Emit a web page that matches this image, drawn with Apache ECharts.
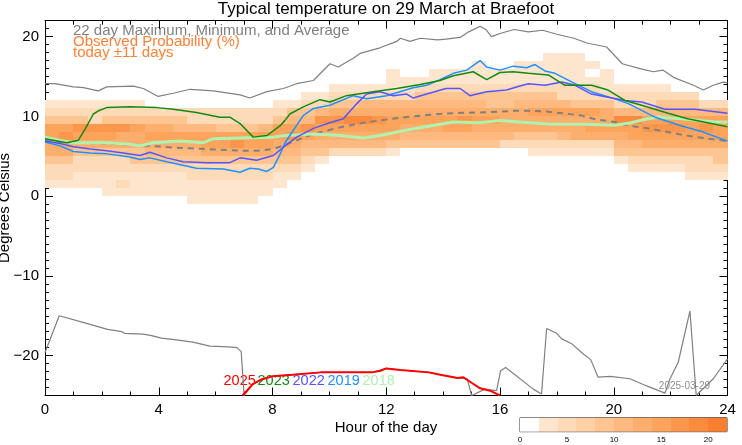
<!DOCTYPE html>
<html><head><meta charset="utf-8">
<script src="https://cdn.jsdelivr.net/npm/echarts@6/dist/echarts.min.js"></script>
<style>html,body{margin:0;padding:0;background:#fff}#c{width:742px;height:445px}</style>
</head><body><div id="c"></div>
<script>
const FONT = '"Liberation Sans", Arial, Helvetica, sans-serif';

// ---- Observed probability (%) heatmap: 0.5 h columns, 1 degree rows ----
const probCellHours = 0.5;
const probBottom = [1,1,1,1,0,0,0,0,0,0,-1,-1,-1,-1,-1,0,1,2,3,4,5,5,5,5,5,6,6,6,6,6,6,6,6,6,5,5,5,5,5,5,4,3,3,3,3,2,2,2];
const probCols = [
  [3,5,5,9,13,13,15,15,9,5,3],
  [3,5,5,9,13,13,17,15,9,5,3],
  [3,3,5,5,9,13,15,17,9,5,3],
  [3,3,5,5,9,13,15,17,5,5,3],
  [3,3,3,5,5,9,13,15,17,9,5,3],
  [3,5,3,5,5,9,13,13,17,9,5,3],
  [3,3,3,5,9,9,13,13,15,9,5,3],
  [3,3,3,5,9,11,13,15,13,9,5],
  [3,3,3,5,9,11,13,15,13,9,5],
  [3,3,3,5,9,11,13,15,11,9,5],
  [3,3,3,5,5,9,11,13,15,11,5,5],
  [3,3,3,5,5,9,13,15,15,11,5,5],
  [3,3,3,5,5,9,13,15,15,9,5,5],
  [3,3,3,5,5,9,13,17,15,9,5,5],
  [3,3,3,5,5,9,13,15,15,9,5,5],
  [3,3,5,5,9,13,15,15,11,5,5],
  [3,3,5,9,11,13,15,15,9,5,3],
  [3,5,9,11,13,17,15,11,9,3],
  [3,5,9,11,15,17,11,9,5,3],
  [3,9,11,13,15,17,11,5,3],
  [5,11,13,15,17,13,9,5,3],
  [5,11,13,15,19,13,9,5,3],
  [5,11,13,15,19,13,11,5,3],
  [5,11,13,15,17,13,11,5,3],
  [3,9,13,15,15,13,11,5,3,3,3],
  [9,11,13,15,13,11,5,3,3],
  [9,11,13,15,13,11,9,5,3],
  [9,11,13,15,13,11,9,5,3,3],
  [9,11,15,15,13,11,9,5,3,3],
  [9,11,15,17,13,11,9,5,3,3],
  [9,11,13,15,13,11,9,5,3,3,3],
  [9,11,13,15,13,9,9,5,3,3],
  [5,11,13,13,13,9,9,5,3,3],
  [5,9,13,13,13,11,9,5,3,3,3],
  [3,5,9,13,13,15,11,9,5,3,3,3],
  [3,5,9,13,13,15,11,9,5,3,3,3,3],
  [3,5,11,13,13,15,11,5,5,3,3,3,3],
  [3,5,13,13,13,15,9,5,5,3,3,3,3],
  [3,5,13,15,13,15,9,5,5,3,0,3],
  [3,5,13,15,13,13,9,5,3,3,3],
  [3,9,11,13,15,19,11,5,5,3],
  [3,5,9,11,15,15,19,11,5,5,3],
  [3,5,9,13,15,17,15,11,5,5,3],
  [3,5,9,13,15,17,15,11,9,5,3],
  [3,5,9,13,15,17,15,11,9,5],
  [3,5,5,9,13,15,15,15,11,9,5],
  [3,5,5,9,13,15,17,15,11,5],
  [3,5,9,9,13,15,15,15,11,5]
];
const colorbarBins = [0,2,4,6,8,10,12,14,16,18,20];
const colorbarTicks = [0,5,10,15,20];
const binColors = ['#ffffff','#fee6ce','#fddbb9','#fdd0a5','#fdc592','#fdb97f','#fcae6c','#fca35c','#fb974c','#fa8b3e','#f97f30'];

// ---- 22 day maximum / minimum / average ----
const maxLine = [[0,14.1],[0.35,14.1],[1.0,13.7],[1.35,13.6],[1.87,13.2],[2.17,13.7],[3.1,13.8],[3.46,13.5],[3.98,12.5],[4.51,12.9],[5.1,13.4],[5.92,13.2],[6.86,12.7],[7.2,12.3],[7.8,13.1],[8.38,13.5],[8.85,14.1],[9.44,14.5],[10.02,16.6],[10.31,16.2],[10.84,17.3],[11.08,17.9],[11.78,18.6],[12.37,19.4],[12.5,19.8],[12.83,19.4],[13.2,19.8],[13.8,19.6],[14.1,19.7],[14.6,19.9],[14.9,20.6],[15.3,21.3],[15.5,20.9],[15.7,20.0],[16.0,20.4],[16.5,20.9],[17.0,20.6],[17.5,20.8],[18.0,20.3],[18.6,19.8],[19.05,19.2],[19.75,18.7],[20.3,16.6],[20.92,16.0],[21.39,15.6],[21.74,15.8],[22.1,14.9],[22.8,13.9],[23.15,13.3],[23.5,13.9],[23.85,14.3],[24,14.2]];
const minLine = [[0,-19.6],[0.5,-15.0],[1.4,-15.9],[2.2,-16.7],[2.7,-17.0],[2.8,-17.2],[3.45,-17.3],[3.75,-17.5],[4.1,-17.8],[4.55,-18.0],[5.2,-18.3],[5.8,-18.8],[6.45,-18.9],[6.75,-19.0],[6.9,-19.5],[7.0,-25],[7.3,-23.6],[7.6,-23.0],[8.0,-22.6],[8.7,-22.4],[9.7,-22.1],[10.7,-22.1],[11.5,-22.1],[12.0,-21.6],[12.5,-21.8],[13.5,-22.1],[13.9,-22.4],[14.5,-22.8],[14.85,-22.9],[15.0,-25],[15.47,-24.2],[15.88,-24.4],[16.02,-21.9],[16.2,-21.5],[17.17,-24.2],[17.46,-24.8],[17.64,-16.6],[17.99,-17.2],[18.17,-17.9],[18.52,-18.5],[18.93,-19.8],[19.19,-20.5],[19.45,-22.7],[19.87,-22.6],[20.57,-22.9],[21.16,-23.8],[21.8,-24.7],[21.98,-22.9],[22.27,-20.8],[22.68,-14.4],[22.9,-25],[23.5,-22.9],[24,-20.4]];
const avgLine = [[0,6.9],[1,6.7],[2.17,6.6],[3.34,6.4],[4.5,6.1],[5.69,5.9],[6.86,5.7],[7.44,5.7],[8.03,5.9],[8.5,6.5],[9.0,7.2],[9.44,7.8],[10.0,8.3],[10.6,8.8],[11.2,9.2],[11.78,9.5],[12.4,9.8],[12.95,10.0],[13.5,10.2],[14.1,10.35],[14.7,10.45],[15.3,10.5],[16.0,10.6],[16.5,10.7],[17.0,10.7],[17.64,10.6],[18.2,10.4],[18.87,10.1],[19.4,9.6],[20.04,9.3],[20.57,8.8],[21.2,8.5],[21.8,8.1],[22.4,7.7],[22.9,7.4],[23.56,7.1],[24,6.9]];

// ---- individual years ----
const y2025 = [[6.95,-25],[7.1,-24.4],[7.3,-23.6],[7.6,-23.0],[8.0,-22.6],[8.7,-22.4],[9.7,-22.1],[10.7,-22.1],[11.5,-22.1],[11.8,-21.9],[12.0,-21.6],[12.5,-21.8],[13.5,-22.1],[13.9,-22.4],[14.5,-22.8],[14.7,-22.7],[15.0,-23.4],[15.3,-24.1],[15.65,-24.4],[16.0,-25]];
const y2023 = [[0,7.2],[0.76,6.7],[1.17,7.0],[1.41,8.4],[1.7,10.3],[1.88,10.7],[2.17,11.1],[2.99,11.2],[3.93,11.1],[4.51,10.9],[5.33,10.5],[6.15,9.9],[6.5,9.9],[6.86,9.1],[7.32,7.4],[7.8,7.6],[8.26,8.8],[8.44,9.5],[8.61,10.3],[9.08,11.2],[9.67,12.1],[10.02,11.8],[10.6,12.6],[11.54,13.1],[12.37,13.5],[13.19,14.0],[13.89,14.5],[14.36,15.1],[15.06,15.6],[15.53,14.6],[16.0,15.5],[16.47,15.6],[17.0,15.4],[17.7,15.2],[18.28,13.9],[19.22,13.9],[19.8,13.3],[20.39,12.0],[20.98,11.4],[21.91,10.4],[22.6,9.7],[23.3,9.2],[24,8.7]];
const y2022 = [[0,6.9],[0.53,6.6],[1.0,6.2],[1.58,5.9],[2.17,5.7],[2.75,5.4],[3.34,5.1],[3.69,5.5],[4.28,4.8],[4.86,4.3],[5.69,4.2],[6.5,4.2],[6.86,4.8],[7.44,4.5],[8.03,5.1],[8.44,6.3],[8.85,7.4],[9.44,8.5],[10.02,9.2],[10.49,9.7],[10.96,11.6],[11.31,12.8],[11.78,13.1],[12.25,12.6],[12.72,12.8],[12.95,12.3],[13.42,12.8],[14.1,13.5],[14.6,13.5],[14.94,12.6],[15.53,13.1],[16.23,13.3],[16.7,13.8],[17.0,14.1],[17.58,13.9],[18.17,14.3],[18.64,13.9],[19.22,12.8],[19.8,12.4],[20.39,12.0],[20.98,11.8],[21.8,10.9],[22.86,10.9],[24,10.4]];
const y2019 = [[0,6.8],[0.53,6.3],[1.0,5.6],[1.58,5.4],[2.17,5.3],[2.99,4.9],[3.34,4.6],[3.69,4.8],[4.28,4.3],[5.33,3.5],[6.27,3.4],[6.86,3.0],[7.2,3.5],[7.5,3.4],[7.8,3.1],[8.03,3.6],[8.26,5.2],[8.44,6.7],[8.61,7.6],[9.08,10.1],[9.44,11.0],[10.02,11.4],[10.84,12.6],[11.31,12.2],[12.01,12.6],[12.95,13.6],[13.42,13.9],[13.89,14.6],[14.36,15.4],[14.83,15.8],[15.3,17.0],[15.53,16.2],[16.0,15.8],[16.47,16.3],[16.94,16.1],[17.23,16.5],[17.58,15.7],[17.93,15.4],[18.64,14.1],[19.22,13.1],[20.04,12.2],[20.51,11.6],[21.45,9.9],[22.39,8.8],[23.09,8.1],[24,6.9]];
const y2018 = [[0,7.4],[0.5,7.0],[1,6.7],[2.17,6.7],[3.0,6.5],[3.34,6.3],[3.8,6.7],[4.75,6.9],[5.57,6.7],[5.92,7.2],[6.86,7.3],[8.03,7.4],[8.44,7.6],[9.44,7.8],[10.37,7.6],[11.2,7.3],[11.78,7.6],[12.72,8.3],[13.54,8.8],[14.36,9.3],[15.3,9.2],[16.0,9.5],[16.7,9.3],[17.7,9.05],[19.0,9.0],[20.04,8.9],[20.6,9.2],[21.2,9.7],[21.57,9.9],[22.4,9.7],[23.56,9.3],[24,9.3]];

const xTickLabels = [0,4,8,12,16,20,24];
const yTickLabels = [-20,-10,0,10,20];
const yearLabels = ['2025','2023','2022','2019','2018'];
const yearColors = ['#ff0000','#138a13','#5555ff','#1e90ff','#b0f2b0'];

// ---- build heatmap cells ----
const cells = [];
probCols.forEach((col, i) => {
  col.forEach((v, k) => { if (v > 0) cells.push([i * probCellHours, probBottom[i] + k, v]); });
});
function binColor(v){ let i = Math.floor(v / 2); if (i > 10) i = 10; if (i < 0) i = 0; return binColors[i]; }

const chart = echarts.init(document.getElementById('c'), null, {renderer: 'canvas'});

const baseX = {min:0, max:24, interval:4, gridIndex:0,
  axisLine:{show:true, onZero:false, lineStyle:{color:'#000', width:1}},
  axisTick:{show:true, inside:true, length:8, lineStyle:{color:'#000'}},
  minorTick:{show:true, splitNumber:4, length:4, lineStyle:{color:'#000'}},
  splitLine:{show:false}, minorSplitLine:{show:false}};
const baseY = {min:-25, max:22, interval:1, gridIndex:0,
  axisLine:{show:true, onZero:false, lineStyle:{color:'#000', width:1}},
  axisTick:{show:true, inside:true, length:4, lineStyle:{color:'#000'}},
  splitLine:{show:false}};

function lineSeries(data, color, width, extra){
  return Object.assign({type:'line', data:data, xAxisIndex:0, yAxisIndex:0, showSymbol:false, symbol:'none',
    lineStyle:{color:color, width:width}, silent:true, animation:false, clip:true}, extra||{});
}

const graphics = [
  {type:'text', x:386, y:9, style:{text:'Typical temperature on 29 March at Braefoot', fill:'#000', font:'17px '+FONT, align:'center', verticalAlign:'middle', textAlign:'center', textVerticalAlign:'middle'}},
  {type:'text', x:73, y:30.5, style:{text:'22 day Maximum, Minimum, and Average', fill:'#808080', font:'15px '+FONT, align:'left', verticalAlign:'middle', textAlign:'left', textVerticalAlign:'middle'}},
  {type:'text', x:73, y:41.5, style:{text:'Observed Probability (%)', fill:'#ff8033', font:'15px '+FONT, align:'left', verticalAlign:'middle', textAlign:'left', textVerticalAlign:'middle'}},
  {type:'text', x:73, y:52.5, style:{text:'today \u00b111 days', fill:'#ff8033', font:'15px '+FONT, align:'left', verticalAlign:'middle', textAlign:'left', textVerticalAlign:'middle'}},
  {type:'text', x:386, y:428, style:{text:'Hour of the day', fill:'#000', font:'15px '+FONT, align:'center', verticalAlign:'middle', textAlign:'center', textVerticalAlign:'middle'}},
  {type:'text', x:5, y:208, rotation:Math.PI/2, style:{text:'Degrees Celsius', fill:'#000', font:'15px '+FONT, align:'center', verticalAlign:'middle', textAlign:'center', textVerticalAlign:'middle'}},
  {type:'text', x:710, y:386.5, style:{text:'2025-03-29', fill:'#909090', font:'10px '+FONT, align:'right', verticalAlign:'middle', textAlign:'right', textVerticalAlign:'middle'}}
];
const yearX = [223.5, 257.5, 292.5, 327.5, 362.5];
yearLabels.forEach((t, i) => {
  graphics.push({type:'text', x:yearX[i], y:381, style:{text:t, fill:yearColors[i], font:'14.5px '+FONT, align:'left', verticalAlign:'middle', textAlign:'left', textVerticalAlign:'middle'}});
});

const option = {
  animation:false,
  backgroundColor:'#fff',
  textStyle:{fontFamily:FONT},
  grid:[
    {left:45, top:20.7, width:682.5, height:374.8, show:false},
    {left:520, top:417.7, width:207, height:14, show:true, borderColor:'#333', borderWidth:1, backgroundColor:'transparent'}
  ],
  xAxis:[
    Object.assign({}, baseX, {type:'value', position:'bottom',
      axisLabel:{show:true, fontSize:15, color:'#000', margin:7, fontFamily:FONT,
        formatter:v => xTickLabels.indexOf(v) >= 0 ? String(v) : ''}}),
    Object.assign({}, baseX, {type:'value', position:'top', axisLabel:{show:false}}),
    {type:'value', gridIndex:1, min:0, max:22, interval:5, position:'bottom',
      axisLine:{show:false}, axisTick:{show:false}, splitLine:{show:false},
      axisLabel:{show:true, fontSize:8, color:'#000', margin:4, showMaxLabel:false, fontFamily:FONT,
        formatter:v => colorbarTicks.indexOf(v) >= 0 ? String(v) : ''}}
  ],
  yAxis:[
    Object.assign({}, baseY, {type:'value', position:'left',
      axisLabel:{show:true, fontSize:15, color:'#000', margin:6, fontFamily:FONT,
        formatter:v => yTickLabels.indexOf(v) >= 0 ? String(v).replace('-', '\u2212') : ''}}),
    Object.assign({}, baseY, {type:'value', position:'left', axisLabel:{show:false},
      axisTick:{show:true, inside:true, length:8, customValues:yTickLabels, lineStyle:{color:'#000'}}}),
    Object.assign({}, baseY, {type:'value', position:'right', axisLabel:{show:false}}),
    Object.assign({}, baseY, {type:'value', position:'right', axisLabel:{show:false},
      axisTick:{show:true, inside:true, length:8, customValues:yTickLabels, lineStyle:{color:'#000'}}}),
    {type:'value', gridIndex:1, min:0, max:1, show:false}
  ],
  series:[
    {type:'custom', xAxisIndex:0, yAxisIndex:0, data:cells, silent:true, clip:true,
      renderItem:function(params, api){
        const x0 = api.value(0), y0 = api.value(1), v = api.value(2);
        const p0 = api.coord([x0, y0 + 1]);
        const p1 = api.coord([x0 + probCellHours, y0]);
        const xa = Math.round(p0[0]), xb = Math.round(p1[0]);
        const ya = Math.round(p0[1]), yb = Math.round(p1[1]);
        return {type:'rect', shape:{x:xa, y:ya, width:xb-xa, height:yb-ya}, style:{fill:binColor(v)}};
      }},
    lineSeries(maxLine, '#808080', 1.2),
    lineSeries(minLine, '#808080', 1.2),
    lineSeries(avgLine, '#808080', 2, {lineStyle:{color:'#808080', width:2, type:[6,5]}}),
    lineSeries(y2018, yearColors[4], 3),
    lineSeries(y2019, yearColors[3], 1.5),
    lineSeries(y2022, yearColors[2], 1.5),
    lineSeries(y2023, yearColors[1], 1.5),
    lineSeries(y2025, yearColors[0], 2),
    {type:'custom', xAxisIndex:2, yAxisIndex:4, silent:true,
      data:colorbarBins.map((b, i) => [b, i]),
      renderItem:function(params, api){
        const b = api.value(0), i = api.value(1);
        const p0 = api.coord([b, 1]);
        const p1 = api.coord([b + 2, 0]);
        const xa = Math.round(p0[0]), xb = Math.round(p1[0]);
        return {type:'rect', shape:{x:xa, y:p0[1], width:xb-xa, height:p1[1]-p0[1]}, style:{fill:binColors[i]}};
      }}
  ],
  graphic:graphics
};
chart.setOption(option);
</script></body></html>
